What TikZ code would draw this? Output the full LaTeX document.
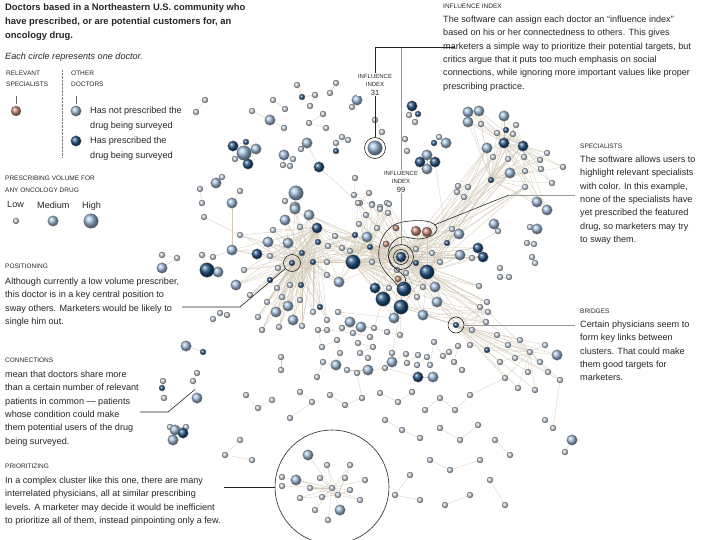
\documentclass[tikz,border=0pt]{standalone}
\usepackage{fontspec}
\setmainfont{Liberation Sans}
\usetikzlibrary{backgrounds,calc}

\definecolor{lightc}{HTML}{9CBCDB}
\definecolor{smallc}{HTML}{C4D2DF}
\definecolor{darkc}{HTML}{1F4F80}
\definecolor{specc}{HTML}{C7826E}
\definecolor{tiec}{HTML}{D3CAB8}
\definecolor{inkc}{HTML}{262626}

\tikzset{
  doc/.style={circle, inner sep=0pt, draw=black!55, line width=.3pt},
  docS/.style={doc, minimum size=6pt, ball color=smallc},
  docM/.style={doc, minimum size=10.5pt, ball color=lightc},
  docL/.style={doc, minimum size=14.5pt, ball color=lightc},
  docSd/.style={doc, minimum size=6pt, ball color=darkc},
  docMd/.style={doc, minimum size=10.5pt, ball color=darkc},
  docLd/.style={doc, minimum size=14.5pt, ball color=darkc},
  docR/.style={doc, minimum size=10pt, ball color=specc},
  docRs/.style={doc, minimum size=6.5pt, ball color=specc},
  tie/.style={draw=tiec, line width=.3pt},
  hoop/.style={draw=inkc, line width=.6pt},
  ring/.style={hoop, circle, inner sep=0pt},
  leadk/.style={draw=inkc, line width=.6pt},
  leadg/.style={draw=black!40, line width=.6pt},
  head/.style={anchor=north west, inner sep=0pt, align=left, text=inkc,
    font=\fontsize{6.5}{8.5}\selectfont},
  body/.style={anchor=north west, inner sep=0pt, align=left, text=inkc,
    font=\fontsize{9.1}{13.4}\selectfont},
  tagtxt/.style={anchor=north, inner sep=1pt, align=center, fill=white,
    text=inkc, font=\fontsize{6}{7.6}\selectfont},
}

\begin{document}
\begin{tikzpicture}[x=1pt, y=-1pt]
  \useasboundingbox (0,0) rectangle (720,540);

  \node[body, font=\bfseries\fontsize{9.4}{14}\selectfont] (title) at (5,3.5)
    {Doctors based in a Northeastern U.S. community who\\
     have prescribed, or are potential customers for, an\\
     oncology drug.};
  \node[body, font=\itshape\fontsize{9.1}{13.4}\selectfont] (each) at (5,52.5)
    {Each circle represents one doctor.};
  \node[head, font=\fontsize{6.5}{11}\selectfont] (relhd) at (6,70.5) {RELEVANT\\SPECIALISTS};
  \node[head, font=\fontsize{6.5}{11}\selectfont] (othhd) at (71,70.5) {OTHER\\DOCTORS};
  \draw[densely dotted, black!50] (62,70) -- (62,157);
  \draw[black!60] (16,96) -- (16,104) (76,96) -- (76,104);
  \node[docR] (key1) at (16,111) {};
  \node[docM] (key2) at (76,111) {};
  \node[docMd] (key3) at (76,141) {};
  \node[body, font=\fontsize{9.1}{15}\selectfont] (keyt2) at (90,106.5)
    {Has not prescribed the\\drug being surveyed};
  \node[body, font=\fontsize{9.1}{15}\selectfont] (keyt3) at (90,136.5)
    {Has prescribed the\\drug being surveyed};
  \node[head, font=\fontsize{6.5}{12}\selectfont] (volhd) at (5,175.5)
    {PRESCRIBING VOLUME FOR\\ANY ONCOLOGY DRUG};
  \node[body] (vlow) at (7,201.5) {Low};
  \node[body] (vmed) at (37,201.5) {Medium};
  \node[body] (vhigh) at (82,201.5) {High};
  \node[docS] (leg1) at (16,221) {};
  \node[docM] (leg2) at (53,221) {};
  \node[docL] (leg3) at (91,221) {};

  \node[head] (poshd) at (5,263.5) {POSITIONING};
  \node[body] (postx) at (5,277.5)
    {Although currently a low volume prescriber,\\
     this doctor is in a key central position to\\
     sway others. Marketers would be likely to\\
     single him out.};
  \node[head] (conhd) at (5,357.5) {CONNECTIONS};
  \node[body] (contx) at (5,370.5)
    {mean that doctors share more\\
     than a certain number of relevant\\
     patients in common --- patients\\
     whose condition could make\\
     them potential users of the drug\\
     being surveyed.};
  \node[head] (prihd) at (5,463.5) {PRIORITIZING};
  \node[body] (pritx) at (5,476.5)
    {In a complex cluster like this one, there are many\\
     interrelated physicians, all at similar prescribing\\
     levels. A marketer may decide it would be inefficient\\
     to prioritize all of them, instead pinpointing only a few.};
  \node[head] (infhd) at (443,3.5) {INFLUENCE INDEX};
  \node[body] (inftx) at (443,15.5)
    {The software can assign each doctor an “influence index”\\
     based on his or her connectedness to others. This gives\\
     marketers a simple way to prioritize their potential targets, but\\
     critics argue that it puts too much emphasis on social\\
     connections, while ignoring more important values like proper\\
     prescribing practice.};
  \node[head] (spehd) at (580,143.5) {SPECIALISTS};
  \node[body] (spetx) at (580,155.5)
    {The software allows users to\\
     highlight relevant specialists\\
     with color. In this example,\\
     none of the specialists have\\
     yet prescribed the featured\\
     drug, so marketers may try\\
     to sway them.};
  \node[head] (brihd) at (580,308.5) {BRIDGES};
  \node[body] (britx) at (580,320.5)
    {Certain physicians seem to\\
     form key links between\\
     clusters. That could make\\
     them good targets for\\
     marketers.};

  \foreach \n/\x/\y in {t1/336/83, t2/330/93, t3/297/85, t5/315/95, t6/310/106,
      t7/273/100, t8/285/109, t9/252/111, t11/284/128, t12/323/114, t13/309/123,
      t14/326/128, t15/342/137, t16/348/140, t17/336/143, t20/301/149, t23/293/159,
      t24/283/165, t25/290/166, t27/352/107, t28/375/120, t29/382/132, t31/409/115,
      t33/415/122, t34/405/139, t35/407/151, t40/285/201, t42/355/178, t43/354/195,
      t44/369/193, t45/360/203, t46/372/204, t47/380/207, t48/387/203,
      g6/235/159, g7/222/177, g9/200/189, g10/202/203, g11/240/191, g13/204/217,
      g14/162/255, g15/177/258, g17/220/313, g18/227/315, g19/213/319, g20/205/100,
      g21/196/112, h3/197/373, h4/193/381, h5/163/381, h7/164/398, h12/186/427,
      h13/170/427, a5/273/230, a6/300/227, a10/328/246, a13/270/256, a15/327/262,
      a16/278/268, a19/290/285, a20/327/275, a21/277/288, a23/282/297, a24/267/302,
      a25/300/300, a29/313/312, a31/302/326, a32/279/327, a33/327/320, a34/240/235,
      a36/244/270, a38/250/295, a41/202/255, a42/213/257, a43/258/317, a44/262/330,
      b2/372/262, b4/350/251, b7/359/224, b8/366/215, b9/377/228, b10/372/205,
      b11/380/209, b12/389/204, b13/388/213, b14/358/203, b15/416/249, b18/406/273,
      b19/397/270, b22/389/288, b25/417/297, b26/423/287, b31/432/253, b32/440/262,
      b34/452/229, b39/472/258, b40/479/286, b41/480/307, b42/487/302, b43/342/248,
      b44/335/236, c4/481/124, c6/516/125, c8/513/134, c9/497/133, c13/493/157,
      c14/508/159, c15/524/157, c16/547/153, c17/540/160, c18/563/167, c20/525/171,
      c21/541/169, c22/552/183, c23/525/187, c28/439/137, c31/458/186, c32/468/187,
      c33/457/192, c34/464/197, c36/498/231, c37/530/227, c39/527/243, c40/534/244,
      c41/532/257, c42/535/263, c43/500/268, c44/509/277, c45/500/277,
      d1/472/330, d2/486/322, d3/497/335, d4/508/345, d5/520/340, d6/530/352,
      d7/515/358, d8/540/362, d9/548/372, d10/528/372, d11/560/380, d12/500/362,
      d14/470/345, d15/545/345, d17/505/378, d18/518/388, d19/535/390, d20/488/312,
      d22/565/452, d23/545/420, d24/553/428,
      l1/338/312, l3/342/328, l5/374/328, l6/387/332, l7/400/335, l8/370/337,
      l9/353/333, l10/327/330, l11/318/330, l12/322/347, l13/337/340, l14/340/353,
      l16/323/362, l17/358/343, l18/373/347, l19/360/353, l20/368/358, l21/392/353,
      l23/406/354, l24/407/363, l25/418/355, l26/417/365, l27/427/357, l28/430/365,
      l29/434/342, l30/443/356, l31/449/352, l32/458/346, l33/454/362, l34/462/370,
      l35/281/357, l36/281/370, l38/347/370, l39/357/373, l40/385/368, l41/317/377,
      u1/246/395, u2/258/408, u3/272/400, u4/300/392, u5/312/402, u6/290/418,
      u7/330/395, u8/345/405, u9/362/398, u10/380/393, u11/398/402, u12/412/392,
      u13/425/410, u14/440/398, u15/455/410, u16/470/395, u17/385/420, u18/402/430,
      u19/420/438, u20/440/428, u21/460/440, u22/478/425, u23/495/440, u24/510/455,
      u25/480/460, u26/450/470, u27/430/460, u28/410/475, u29/395/495, u30/420/500,
      u31/445/505, u32/470/495, u33/490/480, u34/505/505, u35/240/440, u36/225/455,
      u37/252/460,
      e1/332/488, e2/320/478, e3/345/478, e4/338/495, e5/322/497, e6/310/488,
      e7/350/490, e9/300/498, e10/327/465, e11/350/465, e12/360/500, e14/315/510,
      e15/282/477, e16/282/486, e17/365/480, e18/328/520}
    \node[docS] (\n) at (\x,\y) {};
  \foreach \n/\x/\y in {t10/270/120, t19/307/143, t22/284/155, t26/357/100,
      t37/427/155, t38/427/169, t41/295/207, g3/256/149, g8/216/183, g12/232/203,
      g16/162/268, h1/186/346, h8/197/398, h9/175/430, h11/173/440, a1/295/209,
      a2/309/215, a3/285/220, a7/288/243, a8/268/242, a18/339/282, a26/288/306,
      a27/276/312, a30/293/320, a35/232/250, a37/236/285, a40/218/272, b5/367/237,
      b27/435/287, b28/437/302, b29/423/315, b30/394/318, b35/459/234, b36/460/255,
      c1/468/112, c2/479/111, c3/468/122, c5/504/116, c12/487/148, c19/510/173,
      c25/537/202, c26/547/210, c27/446/143, c35/494/224, c38/537/229, d16/557/355,
      d21/572/440, l2/350/322, l4/361/327, l15/336/365, l22/392/362, l37/368/370,
      l43/433/377, e8/296/480, e13/340/510, e19/308/455}
    \node[docM] (\n) at (\x,\y) {};
  \foreach \n/\x/\y in {inf31/375/148, g2/244/153, t39/296/193}
    \node[docL] (\n) at (\x,\y) {};
  \foreach \n/\x/\y in {t4/302/97, t18/336/151, t32/418/114, g4/246/142,
      h2/203/352, h6/162/388, a9/318/242, a11/302/253, pos/292/263, a14/313/262,
      a17/270/280, a22/301/285, a28/320/307, b3/370/247, b6/355/235, b16/416/263,
      b33/447/243, c7/506/130, c24/491/180, c29/434/143, bridge/456/325, d13/487/350}
    \node[docSd] (\n) at (\x,\y) {};
  \foreach \n/\x/\y in {t21/319/167, t30/412/106, t36/420/162, g1/233/146,
      g5/248/164, h10/183/433, a4/317/228, a12/257/254, inf99/401/257, b20/375/288,
      b37/478/248, b38/483/257, c10/504/143, c11/523/146, c30/435/162, l42/418/377}
    \node[docMd] (\n) at (\x,\y) {};
  \foreach \n/\x/\y in {a39/207/270, b1/353/262, b17/427/272, b21/404/289,
      b23/383/299, b24/401/307}
    \node[docLd] (\n) at (\x,\y) {};
  \foreach \n/\x/\y in {r1/416/231, r2/427/232}
    \node[docR] (\n) at (\x,\y) {};
  \foreach \n/\x/\y in {r3/396/228, r4/386/244, r5/398/279}
    \node[docRs] (\n) at (\x,\y) {};

  \begin{scope}[on background layer]
    \fill[white] (0,0) rectangle (720,540);
    \foreach \a/\b in {t1/t2, t3/t4, t4/t5, t5/t6, t7/t8, t9/t10, t10/t11,
        t12/t13, t13/t14, t15/t16, t16/t17, t17/t18, t19/t20, t19/t21, t21/b14,
        t22/t23, t22/t24, t24/t25, t26/t27, t28/t29, t29/inf31, t30/t31, t32/t33,
        t34/t35, t36/t37, t37/t38, t39/t40, t39/t41, t41/a1, t42/t43, t43/t44,
        t44/t45, t45/t46, t46/t47, t47/t48, t48/b12, t43/b10,
        g1/g2, g2/g3, g2/g4, g2/g5, g2/g6, g1/g4, g3/g5, g7/g8, g9/g10, g11/g12,
        g12/a35, g13/a34, g14/g15, g15/g16, g20/g21,
        h1/h2, h3/h4, h4/h8, h5/h6, h6/h7, h9/h10, h9/h11, h12/h13, h10/h12,
        a39/a40, a41/a42, a39/a41, a42/a35,
        c27/c28, c28/c29, c31/c32, c33/c34, c30/b33, c35/c36, c37/c38, c39/c40,
        c41/c42, c43/c44, c44/c45, c36/b36, d21/d22, d23/d24, d11/d24,
        l1/l2, l2/l3, l3/l4, l4/l5, l5/l6, l6/l7, l8/l9, l9/l10, l10/l11, l11/l12,
        l12/l13, l13/l14, l14/l15, l15/l16, l17/l18, l18/l19, l19/l20, l21/l22,
        l22/l23, l23/l24, l24/l25, l25/l26, l26/l27, l27/l28, l28/l29, l29/l30,
        l30/l31, l31/l32, l32/l33, l33/l34, l35/l36, l37/l38, l38/l39, l39/l40,
        l40/l42, l42/l43, l41/l16, l1/b30, l7/b24, l5/b23, l21/b24,
        u1/u2, u2/u3, u4/u5, u5/u6, u7/u8, u8/u9, u10/u11, u11/u12, u13/u14,
        u14/u15, u15/u16, u17/u18, u18/u19, u20/u21, u21/u22, u23/u24, u25/u26,
        u26/u27, u28/u29, u29/u30, u31/u32, u33/u34, u35/u36, u36/u37, u9/l39,
        u16/d17}
      \draw[tie] (\a) -- (\b);
    \foreach \i in {1,...,38,43,44}
      \foreach \h in {pos,a4,a14,a11}
        \draw[tie] (a\i) -- (\h);
    \foreach \a in {a2,a4,a9,a10,a14,a15,a18,pos,a11}
      \foreach \b in {b1,b6,b3,inf99}
        \draw[tie] (\a) -- (\b);
    \foreach \i in {2,...,44}
      \foreach \h in {inf99,b1,b17,b3}
        \draw[tie] (b\i) -- (\h);
    \foreach \r in {r1,r2,r3,r4,r5}
      \foreach \h in {inf99,b17}
        \draw[tie] (\r) -- (\h);
    \foreach \i in {1,...,26}
      \foreach \h in {c24,c11,c10}
        \draw[tie] (c\i) -- (\h);
    \foreach \a in {c24,c13,c12,c19,c23,c14}
      \foreach \b in {inf99,b16,b17,b15,b33}
        \draw[tie] (\a) -- (\b);
    \foreach \i in {1,...,20}
      \foreach \h in {bridge,d6}
        \draw[tie] (d\i) -- (\h);
    \foreach \a in {bridge,d2,d20,d1}
      \foreach \b in {b29,b28,b24,b41,inf99,b17}
        \draw[tie] (\a) -- (\b);
    \foreach \i in {2,...,19}
      \draw[tie] (e\i) -- (e1);
    \foreach \i in {2,...,12}
      \draw[tie] (e\i) -- (e4);
  \end{scope}

  \node[ring, minimum size=21pt] (ring31) at (inf31) {};
  \node[ring, minimum size=15pt] (ring99i) at (inf99) {};
  \node[ring, minimum size=25pt] (ring99) at (inf99) {};
  \node[ring, minimum size=17pt] (ringPos) at (pos) {};
  \node[ring, minimum size=16pt] (ringBr) at (bridge) {};
  \node[ring, minimum size=114pt] (ringPri) at (332,487) {};
  \draw[hoop] plot[smooth cycle, tension=.6] coordinates {(434,224) (425,221)
    (410,221) (396,224) (386,232) (380,244) (379,258) (384,270) (392,279)
    (399,286) (405,283) (404,276) (393,266) (388,254) (392,243) (402,237)
    (418,239) (431,236) (437,230)};

  \node[tagtxt] (lab31) at (375,73.5)
    {INFLUENCE\\INDEX\\[1pt]{\fontsize{7.5}{9}\selectfont 31}};
  \node[tagtxt] (lab99) at (401,170.5)
    {INFLUENCE\\INDEX\\[1pt]{\fontsize{7.5}{9}\selectfont 99}};

  \coordinate (kInf) at (455,47);
  \coordinate (kSpec) at (434,225);
  \coordinate (kSpecB) at (509,195);
  \coordinate (kSpecC) at (575,195);
  \coordinate (kBr) at (575,325);
  \coordinate (kPos) at (182,307);
  \coordinate (kCon) at (140,412);
  \coordinate (kPri) at (224,487);
  \draw[leadg] (lab99.north) -- (lab99.north |- kInf);
  \draw[leadg] (lab99.south) -- (ring99.north);
  \draw[leadk] (kInf) -| (lab31.north);
  \draw[leadk] (lab31.south) -- (ring31.north);
  \draw[leadk] (kSpec) -- (kSpecB);
  \draw[leadg] (kSpecB) -- (kSpecC);
  \draw[leadg] (ringBr) -- (kBr);
  \draw[leadk] (kPos) -- ++(58,0) -- (ringPos);
  \draw[leadk] (kCon) -- ++(28,0) -- ($(h4)!.5!(h8)$);
  \draw[leadk] (kPri) -- (ringPri);
\end{tikzpicture}
\end{document}
